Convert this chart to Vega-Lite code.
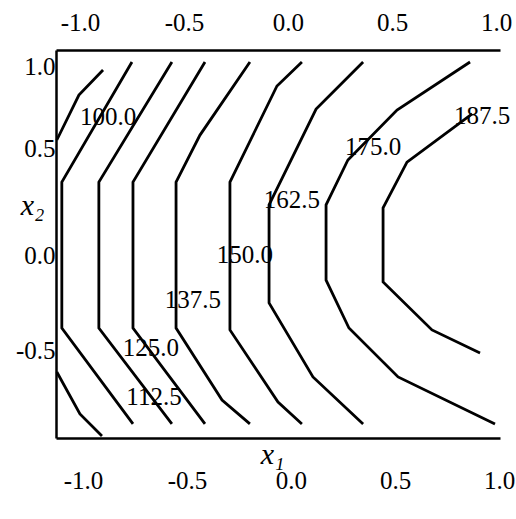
{
  "$schema": "https://vega.github.io/schema/vega-lite/v6.json",
  "width": 444,
  "height": 388,
  "autosize": "none",
  "padding": {"left": 56, "top": 50, "right": 16, "bottom": 81},
  "background": "white",
  "config": {"view": {"stroke": null}, "font": "Liberation Serif, Times New Roman, serif"},
  "datasets": {
    "lines": [
      {"level": 87.5, "piece": "87.5a", "i": 0, "x1": -0.889, "x2": 0.968},
      {"level": 87.5, "piece": "87.5a", "i": 1, "x1": -1.005, "x2": 0.835},
      {"level": 87.5, "piece": "87.5a", "i": 2, "x1": -1.111, "x2": 0.597},
      {"level": 87.5, "piece": "87.5b", "i": 0, "x1": -1.111, "x2": -0.632},
      {"level": 87.5, "piece": "87.5b", "i": 1, "x1": -1.0, "x2": -0.854},
      {"level": 87.5, "piece": "87.5b", "i": 2, "x1": -0.894, "x2": -0.971},
      {"level": 100, "piece": "100", "i": 0, "x1": -0.75, "x2": 1.01},
      {"level": 100, "piece": "100", "i": 1, "x1": -1.087, "x2": 0.374},
      {"level": 100, "piece": "100", "i": 2, "x1": -1.087, "x2": -0.399},
      {"level": 100, "piece": "100", "i": 3, "x1": -0.745, "x2": -0.907},
      {"level": 112.5, "piece": "112.5", "i": 0, "x1": -0.558, "x2": 1.01},
      {"level": 112.5, "piece": "112.5", "i": 1, "x1": -0.909, "x2": 0.374},
      {"level": 112.5, "piece": "112.5", "i": 2, "x1": -0.909, "x2": -0.399},
      {"level": 112.5, "piece": "112.5", "i": 3, "x1": -0.558, "x2": -0.907},
      {"level": 125, "piece": "125", "i": 0, "x1": -0.399, "x2": 1.01},
      {"level": 125, "piece": "125", "i": 1, "x1": -0.745, "x2": 0.374},
      {"level": 125, "piece": "125", "i": 2, "x1": -0.745, "x2": -0.399},
      {"level": 125, "piece": "125", "i": 3, "x1": -0.399, "x2": -0.907},
      {"level": 137.5, "piece": "137.5", "i": 0, "x1": -0.183, "x2": 1.01},
      {"level": 137.5, "piece": "137.5", "i": 1, "x1": -0.423, "x2": 0.623},
      {"level": 137.5, "piece": "137.5", "i": 2, "x1": -0.538, "x2": 0.374},
      {"level": 137.5, "piece": "137.5", "i": 3, "x1": -0.538, "x2": -0.399},
      {"level": 137.5, "piece": "137.5", "i": 4, "x1": -0.317, "x2": -0.78},
      {"level": 137.5, "piece": "137.5", "i": 5, "x1": -0.183, "x2": -0.907},
      {"level": 150, "piece": "150", "i": 0, "x1": 0.067, "x2": 1.01},
      {"level": 150, "piece": "150", "i": 1, "x1": -0.053, "x2": 0.883},
      {"level": 150, "piece": "150", "i": 2, "x1": -0.279, "x2": 0.374},
      {"level": 150, "piece": "150", "i": 3, "x1": -0.279, "x2": -0.409},
      {"level": 150, "piece": "150", "i": 4, "x1": -0.048, "x2": -0.791},
      {"level": 150, "piece": "150", "i": 5, "x1": 0.067, "x2": -0.907},
      {"level": 162.5, "piece": "162.5", "i": 0, "x1": 0.361, "x2": 1.01},
      {"level": 162.5, "piece": "162.5", "i": 1, "x1": 0.135, "x2": 0.761},
      {"level": 162.5, "piece": "162.5", "i": 2, "x1": -0.091, "x2": 0.253},
      {"level": 162.5, "piece": "162.5", "i": 3, "x1": -0.091, "x2": -0.266},
      {"level": 162.5, "piece": "162.5", "i": 4, "x1": 0.12, "x2": -0.658},
      {"level": 162.5, "piece": "162.5", "i": 5, "x1": 0.361, "x2": -0.907},
      {"level": 175, "piece": "175", "i": 0, "x1": 0.875, "x2": 1.01},
      {"level": 175, "piece": "175", "i": 1, "x1": 0.524, "x2": 0.756},
      {"level": 175, "piece": "175", "i": 2, "x1": 0.288, "x2": 0.491},
      {"level": 175, "piece": "175", "i": 3, "x1": 0.183, "x2": 0.253},
      {"level": 175, "piece": "175", "i": 4, "x1": 0.183, "x2": -0.145},
      {"level": 175, "piece": "175", "i": 5, "x1": 0.293, "x2": -0.399},
      {"level": 175, "piece": "175", "i": 6, "x1": 0.529, "x2": -0.658},
      {"level": 175, "piece": "175", "i": 7, "x1": 0.995, "x2": -0.907},
      {"level": 187.5, "piece": "187.5", "i": 0, "x1": 0.885, "x2": 0.735},
      {"level": 187.5, "piece": "187.5", "i": 1, "x1": 0.572, "x2": 0.48},
      {"level": 187.5, "piece": "187.5", "i": 2, "x1": 0.457, "x2": 0.237},
      {"level": 187.5, "piece": "187.5", "i": 3, "x1": 0.457, "x2": -0.155},
      {"level": 187.5, "piece": "187.5", "i": 4, "x1": 0.692, "x2": -0.409},
      {"level": 187.5, "piece": "187.5", "i": 5, "x1": 0.923, "x2": -0.531}
    ],
    "labels": [
      {"label": "100.0", "x1": -0.865, "x2": 0.719},
      {"label": "112.5", "x1": -0.644, "x2": -0.765},
      {"label": "125.0", "x1": -0.659, "x2": -0.505},
      {"label": "137.5", "x1": -0.457, "x2": -0.251},
      {"label": "150.0", "x1": -0.207, "x2": -0.012},
      {"label": "162.5", "x1": 0.019, "x2": 0.279},
      {"label": "175.0", "x1": 0.409, "x2": 0.56},
      {"label": "187.5", "x1": 0.933, "x2": 0.724}
    ]
  },
  "layer": [
    {
      "data": {"name": "lines"},
      "mark": {"type": "line", "color": "black", "strokeWidth": 2.8, "clip": false},
      "encoding": {
        "x": {
          "field": "x1", "type": "quantitative",
          "scale": {"domain": [-1.115, 1.019], "nice": false, "zero": false},
          "axis": {
            "orient": "bottom", "values": [-1, -0.5, 0, 0.5, 1],
            "labelExpr": "(datum.value < 0 ? '-' : '') + format(abs(datum.value), '.1f')",
            "ticks": false, "tickSize": 0, "grid": false,
            "domainColor": "black", "domainWidth": 2.5,
            "labelFont": "Liberation Serif, Times New Roman, serif", "labelFontSize": 25, "labelColor": "black",
            "labelPadding": 30, "labelOffset": 3, "labelFlush": false, "labelOverlap": false,
            "title": "x₁", "titleFont": "Liberation Serif, Times New Roman, serif", "titleFontStyle": "italic",
            "titleFontWeight": "normal", "titleFontSize": 30, "titleColor": "black",
            "titleX": 216, "titleY": 16, "titleBaseline": "middle", "titleAlign": "center"
          }
        },
        "y": {
          "field": "x2", "type": "quantitative",
          "scale": {"domain": [-0.9815, 1.0737], "nice": false, "zero": false},
          "axis": {
            "orient": "left", "values": [-0.5, 0, 0.5, 1],
            "labelExpr": "(datum.value < 0 ? '-' : '') + format(abs(datum.value), '.1f')",
            "ticks": false, "tickSize": 0, "grid": false,
            "domainColor": "black", "domainWidth": 2.5,
            "labelFont": "Liberation Serif, Times New Roman, serif", "labelFontSize": 25, "labelColor": "black",
            "labelPadding": 1, "labelFlush": false, "labelOverlap": false,
            "labelOffset": {"condition": {"test": "datum.value == 0.5", "value": -10}, "value": 3},
            "title": "x₂", "titleFont": "Liberation Serif, Times New Roman, serif", "titleFontStyle": "italic",
            "titleFontWeight": "normal", "titleFontSize": 30, "titleColor": "black",
            "titleAngle": 0, "titleX": -24, "titleY": 155, "titleBaseline": "middle", "titleAlign": "center"
          }
        },
        "detail": {"field": "piece"},
        "order": {"field": "i", "type": "quantitative"}
      }
    },
    {
      "data": {"name": "labels"},
      "mark": {"type": "text", "font": "Liberation Serif, Times New Roman, serif", "fontSize": 25, "color": "black", "align": "center", "baseline": "middle"},
      "encoding": {
        "x": {
          "field": "x1", "type": "quantitative",
          "scale": {"domain": [-1.115, 1.019], "nice": false, "zero": false},
          "axis": {
            "orient": "top", "values": [-1, -0.5, 0, 0.5, 1],
            "labelExpr": "(datum.value < 0 ? '-' : '') + format(abs(datum.value), '.1f')",
            "ticks": false, "tickSize": 0, "grid": false,
            "domainColor": "black", "domainWidth": 2.5,
            "labelFont": "Liberation Serif, Times New Roman, serif", "labelFontSize": 25, "labelColor": "black",
            "labelPadding": 15, "labelFlush": false, "labelOverlap": false,
            "title": null
          }
        },
        "y": {"field": "x2", "type": "quantitative", "scale": {"domain": [-0.9815, 1.0737], "nice": false, "zero": false}},
        "text": {"field": "label"}
      }
    }
  ],
  "resolve": {"axis": {"x": "independent"}}
}
